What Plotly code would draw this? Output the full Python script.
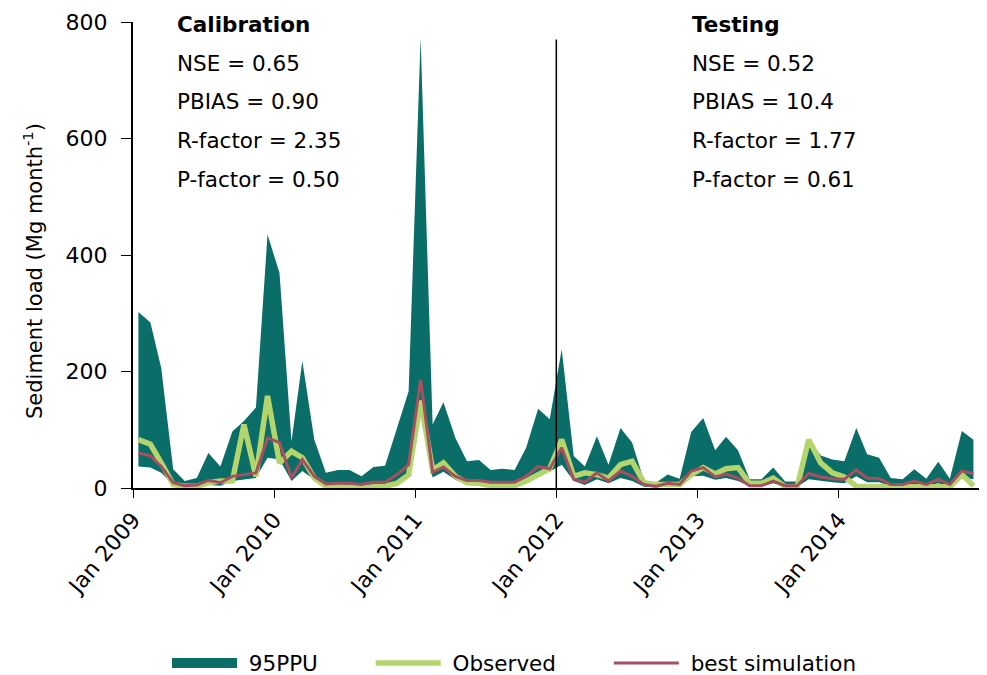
import plotly.graph_objects as go
import pandas as pd

dates = [d.strftime("%Y-%m-%d") for d in pd.date_range("2009-01-01", periods=72, freq="MS") + pd.Timedelta(days=14)]

upper = [302, 284, 206, 32, 12, 17, 60, 37, 97, 115, 138, 435,
         369, 80, 218, 83, 26, 31, 31, 20, 36, 38, 103, 166,
         773, 109, 147, 86, 46, 48, 31, 33, 31, 69, 136, 118,
         238, 55, 37, 89, 40, 103, 78, 12, 9, 23, 16, 96,
         120, 65, 88, 65, 15, 15, 35, 11, 11, 83, 56, 49,
         46, 103, 58, 52, 17, 15, 32, 16, 45, 16, 98, 83]

lower = [37, 35, 26, 5, 1, 1, 5, 4, 12, 14, 17, 52,
         49, 12, 29, 14, 4, 3, 3, 2, 5, 5, 12, 25,
         125, 18, 28, 14, 6, 6, 3, 3, 3, 10, 25, 28,
         40, 12, 5, 15, 8, 17, 12, 2, 1, 3, 3, 20,
         21, 14, 17, 12, 3, 3, 8, 2, 2, 15, 12, 10,
         8, 20, 10, 10, 3, 3, 7, 3, 8, 3, 18, 15]

observed = [83, 75, 43, 6, 3, 3, 9, 12, 12, 109, 20, 158,
            43, 63, 52, 17, 3, 1, 1, 1, 2, 3, 8, 23,
            150, 31, 43, 20, 9, 8, 4, 4, 4, 12, 23, 33,
            83, 20, 26, 23, 17, 40, 46, 9, 6, 6, 6, 23,
            35, 24, 33, 35, 8, 8, 17, 2, 2, 83, 43, 26,
            19, 3, 2, 2, 2, 2, 3, 2, 2, 2, 23, 4]

simulation = [60, 55, 37, 9, 4, 5, 13, 9, 20, 23, 26, 86,
              78, 17, 49, 20, 7, 8, 8, 6, 10, 10, 23, 40,
              186, 27, 36, 20, 13, 13, 10, 10, 10, 20, 37, 33,
              69, 15, 10, 26, 12, 29, 20, 6, 3, 8, 6, 29,
              35, 19, 24, 17, 4, 4, 12, 4, 4, 25, 19, 16,
              15, 31, 17, 16, 6, 6, 12, 6, 15, 6, 29, 25]

tick_vals = ["2009-01-01", "2010-01-01", "2011-01-01", "2012-01-01",
             "2013-01-01", "2014-01-01"]
tick_text = ["Jan 2009", "Jan 2010", "Jan 2011", "Jan 2012",
             "Jan 2013", "Jan 2014"]

cal_stats = ["NSE = 0.65", "PBIAS = 0.90", "R-factor = 2.35", "P-factor = 0.50"]
test_stats = ["NSE = 0.52", "PBIAS = 10.4", "R-factor = 1.77", "P-factor = 0.61"]

series_names = ["95PPU", "Observed", "best simulation"]

TEAL = "#0b6d68"
GREEN = "#b4d56b"
RED = "#a64f5e"
FONT = "DejaVu Sans"
NB = "\u00a0"

# the page body has an 8px default margin: the figure is sized to fit inside it
W, H = 979, 667
ML, MR, MT, MB = 125, 7, 14, 187

fig = go.Figure()
fig.add_trace(go.Scatter(x=dates, y=lower, mode="lines", line=dict(width=0, color=TEAL),
                         showlegend=False, hoverinfo="skip"))
fig.add_trace(go.Scatter(x=dates, y=upper, mode="lines", line=dict(width=0, color=TEAL),
                         fill="tonexty", fillcolor=TEAL, name=series_names[0],
                         showlegend=False))
fig.add_trace(go.Scatter(x=dates, y=observed, mode="lines", line=dict(width=5.5, color=GREEN),
                         name=" " + series_names[1] + NB * 7, legendrank=2))
fig.add_trace(go.Scatter(x=dates, y=simulation, mode="lines", line=dict(width=3, color=RED),
                         name=" " + series_names[2], legendrank=3))
# legend entry for the 95PPU band (drawn as a wide swatch)
fig.add_trace(go.Scatter(x=[None], y=[None], mode="lines", line=dict(width=15, color=TEAL),
                         name=" " + series_names[0] + NB * 7, legendrank=1))

fig.add_shape(type="line", x0="2012-01-01", x1="2012-01-01", y0=0, y1=770,
              xref="x", yref="y", line=dict(color="black", width=1.5))

FS = 21.5
ys = [729, 663, 597, 530]
XC, XT = "2009-04-20", "2012-12-13"
fig.add_annotation(x=XC, y=796, text="<b>Calibration</b>", showarrow=False,
                   xanchor="left", yanchor="middle", font=dict(size=FS, family=FONT, color="black"))
fig.add_annotation(x=XT, y=796, text="<b>Testing</b>", showarrow=False,
                   xanchor="left", yanchor="middle", font=dict(size=FS, family=FONT, color="black"))
for yv, t1, t2 in zip(ys, cal_stats, test_stats):
    fig.add_annotation(x=XC, y=yv, text=t1, showarrow=False, xanchor="left",
                       yanchor="middle", font=dict(size=FS, family=FONT, color="black"))
    fig.add_annotation(x=XT, y=yv, text=t2, showarrow=False, xanchor="left",
                       yanchor="middle", font=dict(size=FS, family=FONT, color="black"))

plot_h = H - MT - MB
plot_w = W - ML - MR
# y-axis title as a rotated annotation
fig.add_annotation(xref="paper", yref="paper", x=(33 - 8 - ML) / plot_w,
                   y=(488 - 271) / plot_h, text="Sediment load (Mg month<sup>-1</sup>)",
                   textangle=-90, showarrow=False, xanchor="center", yanchor="middle",
                   font=dict(size=21, family=FONT, color="black"))

fig.update_layout(
    width=W, height=H,
    margin=dict(l=ML, r=MR, t=MT, b=MB),
    plot_bgcolor="white", paper_bgcolor="white",
    font=dict(family=FONT, size=20, color="black"),
    showlegend=True,
    legend=dict(orientation="h", xref="container", yref="container",
                x=159 / W, y=(H - 655) / H, xanchor="left", yanchor="middle",
                traceorder="normal",
                font=dict(size=FS, family=FONT), itemwidth=65),
    xaxis=dict(type="date", range=["2009-01-01", "2015-01-01"], tickvals=tick_vals,
               ticktext=tick_text, tickangle=-50, showgrid=False, zeroline=False,
               showline=True, linecolor="black", linewidth=2, ticks="outside",
               ticklen=8, tickcolor="black", tickfont=dict(size=22, family=FONT),
               automargin=False,
               minor=dict(ticks="outside", ticklen=8, tickcolor="black",
                          dtick="M12", tick0="2009-01-01", showgrid=False)),
    yaxis=dict(range=[0, 800], tickvals=[0, 200, 400, 600, 800], showgrid=False,
               zeroline=False, showline=True, linecolor="black", linewidth=2,
               ticks="outside", ticklen=10, tickcolor="black", ticklabelstandoff=9,
               tickfont=dict(size=22, family=FONT), automargin=False),
)

fig.write_html("out.html")
